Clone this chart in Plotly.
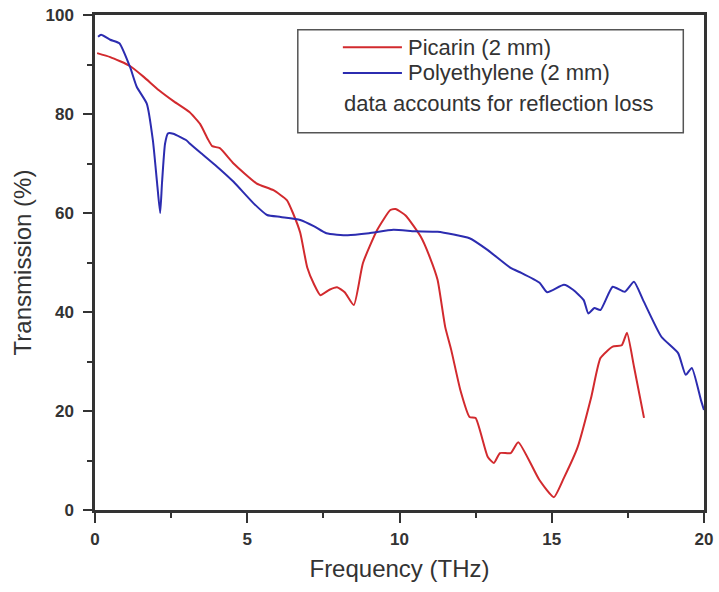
import plotly.graph_objects as go

# Terahertz transmission spectra (data corrected for reflection loss)
picarin_freq = [0.07, 0.5, 1.15, 1.6, 2.1, 2.6, 3.1, 3.45, 3.7, 3.85, 4.1, 4.55, 5.3,
                5.86, 6.3, 6.5, 6.74, 6.97, 7.2, 7.4, 7.7, 7.95, 8.2, 8.5, 8.8, 9.27,
                9.7, 9.87, 10.2, 10.7, 11.0, 11.25, 11.5, 11.7, 12.0, 12.3, 12.5, 12.9,
                13.1, 13.3, 13.65, 13.9, 14.6, 15.07, 15.4, 15.85, 16.3, 16.6, 17.0,
                17.3, 17.47, 17.7, 18.03]
picarin_trans = [92.3, 91.5, 89.7, 87.5, 84.8, 82.5, 80.4, 78.0, 75.0, 73.5, 73.1, 70.0,
                 66.0, 64.6, 62.6, 60.0, 56.0, 49.0, 45.5, 43.4, 44.5, 45.0, 44.0, 41.4,
                 49.9, 56.6, 60.6, 60.8, 59.5, 55.2, 51.0, 46.5, 37.0, 32.3, 24.2, 18.8,
                 18.6, 10.7, 9.5, 11.5, 11.5, 13.7, 6.0, 2.6, 6.5, 12.7, 22.9, 30.7,
                 33.0, 33.3, 35.8, 29.0, 18.6]

pe_freq = [0.1, 0.2, 0.5, 0.8, 1.15, 1.37, 1.7, 1.9, 2.04, 2.14, 2.2, 2.3, 2.4, 2.57,
           3.0, 3.1, 3.5, 4.0, 4.55, 5.2, 5.65, 6.1, 6.74, 7.2, 7.6, 8.3, 9.0, 9.8,
           10.5, 11.25, 12.3, 12.9, 13.65, 14.0, 14.6, 14.85, 15.4, 15.7, 16.05, 16.2,
           16.4, 16.6, 17.0, 17.4, 17.7, 18.0, 18.6, 19.15, 19.4, 19.6, 19.9, 20.0]
pe_trans = [95.6, 96.0, 95.0, 94.3, 89.5, 85.5, 82.1, 74.7, 66.0, 60.0, 66.0, 74.0,
            76.1, 76.0, 74.7, 74.1, 72.0, 69.4, 66.3, 62.0, 59.6, 59.2, 58.6, 57.3,
            55.9, 55.5, 55.9, 56.6, 56.3, 56.2, 54.9, 52.5, 48.9, 47.9, 45.9, 44.0,
            45.5, 44.5, 42.4, 39.7, 40.8, 40.4, 45.1, 44.1, 46.1, 42.4, 35.0, 31.7,
            27.3, 28.7, 22.2, 20.2]

RED = "#d22a2e"
BLUE = "#2c2cb0"
AXIS = "#333333"
FONT = "Liberation Sans, Arial, sans-serif"

fig = go.Figure()
fig.add_trace(go.Scatter(x=picarin_freq, y=picarin_trans, mode="lines",
                         line=dict(color=RED, width=2, shape="spline", smoothing=0.5),
                         name="Picarin (2 mm)", showlegend=False))
fig.add_trace(go.Scatter(x=pe_freq, y=pe_trans, mode="lines",
                         line=dict(color=BLUE, width=2, shape="spline", smoothing=0.5),
                         name="Polyethylene (2 mm)", showlegend=False))

axis_common = dict(
    showgrid=False, zeroline=False, showline=True, linecolor=AXIS, linewidth=2.5,
    mirror=True, ticks="outside", tickcolor=AXIS, tickwidth=2, automargin=False,
    tickfont=dict(family=FONT, size=17, color="#333333", weight="bold"),
)

fig.update_xaxes(range=[0, 20], tickvals=[0, 5, 10, 15, 20], ticklen=10,
                 minor=dict(tickvals=[2.5, 7.5, 12.5, 17.5], ticklen=5,
                            tickcolor=AXIS, tickwidth=2, ticks="outside"),
                 title=dict(text="Frequency (THz)", standoff=13,
                            font=dict(family=FONT, size=24, color="#333333")),
                 ticklabelstandoff=2, **axis_common)
fig.update_yaxes(range=[0, 100], tickvals=[0, 20, 40, 60, 80, 100], ticklen=9,
                 minor=dict(tickvals=[10, 30, 50, 70, 90], ticklen=5,
                            tickcolor=AXIS, tickwidth=2, ticks="outside"),
                 title=dict(text="Transmission (%)", standoff=8,
                            font=dict(family=FONT, size=24, color="#333333")),
                 ticklabelstandoff=6, **axis_common)

# Legend box drawn by hand
legend_font = dict(family=FONT, size=22, color="#333333")
fig.add_shape(type="rect", xref="paper", yref="paper", x0=0.333, x1=0.966,
              y0=0.762, y1=0.970, line=dict(color="#555555", width=1.5),
              fillcolor="white")
for y_pos, color, label in [(0.935, RED, "Picarin (2 mm)"),
                            (0.883, BLUE, "Polyethylene (2 mm)")]:
    fig.add_shape(type="line", xref="paper", yref="paper", x0=0.407, x1=0.504,
                  y0=y_pos, y1=y_pos, line=dict(color=color, width=2))
    fig.add_annotation(xref="paper", yref="paper", x=0.510, y=y_pos, text=label,
                       showarrow=False, xanchor="left", yanchor="middle",
                       font=legend_font)
fig.add_annotation(xref="paper", yref="paper", x=0.405, y=0.822,
                   text="data accounts for reflection loss", showarrow=False,
                   xanchor="left", yanchor="middle", font=legend_font)

fig.update_layout(
    width=719, height=592,
    margin=dict(l=95, r=15, t=15, b=82),
    paper_bgcolor="white", plot_bgcolor="white",
    showlegend=False,
)

fig.write_html("out.html")
